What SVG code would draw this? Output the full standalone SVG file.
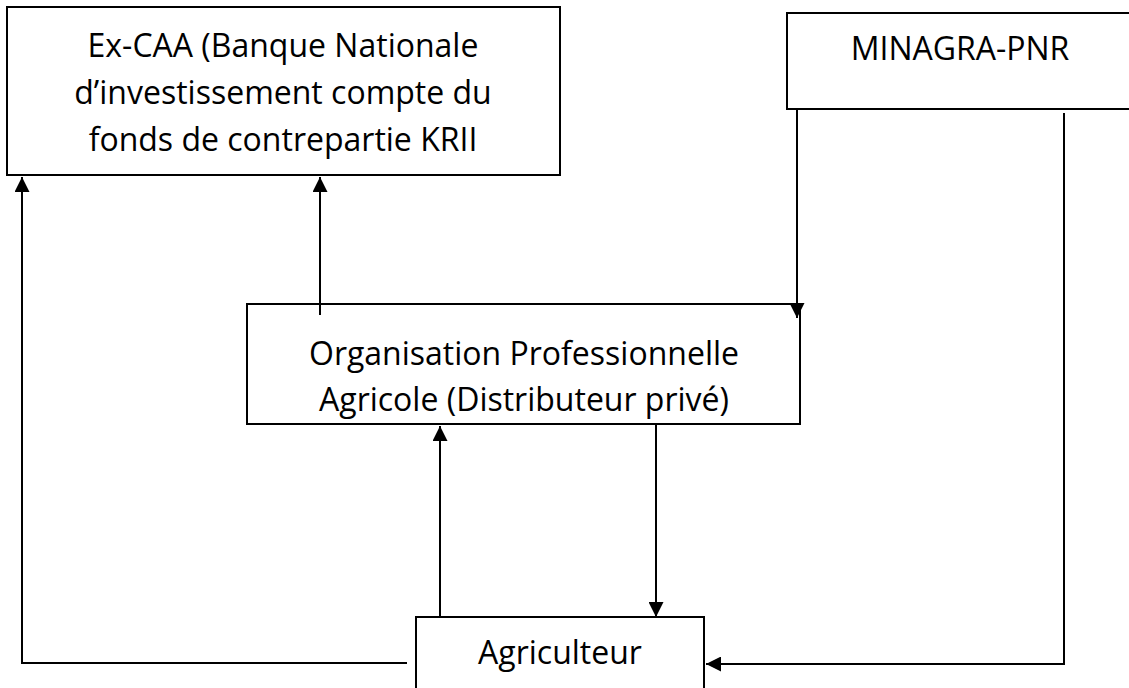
<svg xmlns="http://www.w3.org/2000/svg" width="1129" height="688" viewBox="0 0 1129 688">
  <style>
    .box { fill: #ffffff; stroke: #000000; stroke-width: 2; }
    .lbl { font-family: "Open Sans", "Liberation Sans", sans-serif; font-size: 32px; fill: #000000; text-anchor: middle; }
    .conn { fill: none; stroke: #000000; stroke-width: 2; }
  </style>
  <defs>
    <marker id="arrow" viewBox="0 0 15 15" refX="15" refY="7.5" markerWidth="15" markerHeight="15" markerUnits="userSpaceOnUse" orient="auto">
      <path d="M0,0 L15,7.5 L0,15 Z" fill="#000000"/>
    </marker>
  </defs>
  <rect x="0" y="0" width="1129" height="688" fill="#ffffff"/>

  <g id="node-excaa">
    <rect class="box" x="7" y="7" width="553" height="168"/>
    <text class="lbl" x="283" y="57">Ex-CAA (Banque Nationale</text>
    <text class="lbl" x="283" y="104">d’investissement compte du</text>
    <text class="lbl" x="283" y="151">fonds de contrepartie KRII</text>
  </g>

  <g id="node-minagra">
    <rect class="box" x="787" y="13" width="343" height="96"/>
    <text class="lbl" x="960" y="60">MINAGRA-PNR</text>
  </g>

  <g id="node-opa">
    <rect class="box" x="247" y="304" width="553" height="120"/>
    <text class="lbl" x="524" y="365">Organisation Professionnelle</text>
    <text class="lbl" x="524" y="411">Agricole (Distributeur privé)</text>
  </g>

  <g id="node-agriculteur">
    <rect class="box" x="416" y="617" width="288" height="90"/>
    <text class="lbl" x="560" y="664">Agriculteur</text>
  </g>

  <g id="connectors">
    <polyline class="conn" points="407,663 22,663 22,177" marker-end="url(#arrow)"/>
    <line class="conn" x1="320" y1="315" x2="320" y2="177" marker-end="url(#arrow)"/>
    <line class="conn" x1="797" y1="109" x2="797" y2="318" marker-end="url(#arrow)"/>
    <polyline class="conn" points="1064,113 1064,664 706,664" marker-end="url(#arrow)"/>
    <line class="conn" x1="440" y1="617" x2="440" y2="426" marker-end="url(#arrow)"/>
    <line class="conn" x1="656" y1="424" x2="656" y2="617" marker-end="url(#arrow)"/>
  </g>
</svg>
